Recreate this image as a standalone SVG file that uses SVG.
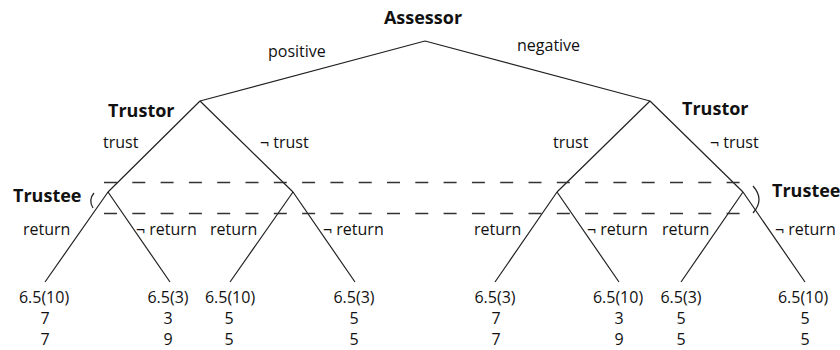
<svg xmlns="http://www.w3.org/2000/svg" width="840" height="350" viewBox="0 0 840 350">
<style>
text{font-family:"Open Sans","Noto Sans","Liberation Sans",sans-serif;fill:#111}
.b{font-size:18px;font-weight:bold}
.n{font-size:16px}
.m{text-anchor:middle}
.e{fill:none;stroke:#222;stroke-width:1.2}
.d{fill:none;stroke:#333;stroke-width:1.3;stroke-dasharray:13 15.3}
</style>
<rect width="840" height="350" fill="#fff"/>
<g id="connectors">
<path class="e" d="M425,41L200,101M425,41L650,101"/>
<path class="e" d="M200,101L108,192M200,101L293,192M650,101L557,192M650,101L743,192"/>
<path class="e" d="M108,192L45,282M108,192L170,282M293,192L230,282M293,192L355,282"/>
<path class="e" d="M557,192L495,282M557,192L619,282M743,192L681,282M743,192L805,282"/>
<g class="n">
<text x="268" y="57">positive</text>
<text x="517" y="51">negative</text>
<text x="103" y="148">trust</text>
<text x="260" y="148">¬ trust</text>
<text x="553" y="148">trust</text>
<text x="710" y="148">¬ trust</text>
<text x="23" y="235">return</text>
<text x="136" y="235">¬ return</text>
<text x="210" y="235">return</text>
<text x="323" y="235">¬ return</text>
<text x="474" y="235">return</text>
<text x="587" y="235">¬ return</text>
<text x="662" y="235">return</text>
<text x="775" y="235">¬ return</text>
</g>
</g>
<g id="assessor"><text class="b m" x="423" y="24">Assessor</text></g>
<g id="trustor-left"><text class="b" x="108" y="117">Trustor</text></g>
<g id="trustor-right"><text class="b" x="682" y="115">Trustor</text></g>
<g id="trustee-infoset">
<path class="d" d="M104,182.5H740M104,213.5H740"/>
<path class="e" d="M94,193Q88,200 93,208"/>
<path class="e" d="M753,186Q765,199.5 753,213"/>
<text class="b" x="13" y="202">Trustee</text>
<text class="b" x="772" y="197">Trustee</text>
</g>
<g id="leaves" class="n m">
<g id="leaf1"><text x="44" y="303">6.5(10)</text><text x="45" y="324">7</text><text x="45" y="345">7</text></g>
<g id="leaf2"><text x="168" y="303">6.5(3)</text><text x="168" y="324">3</text><text x="168" y="345">9</text></g>
<g id="leaf3"><text x="230" y="303">6.5(10)</text><text x="229" y="324">5</text><text x="229" y="345">5</text></g>
<g id="leaf4"><text x="354" y="303">6.5(3)</text><text x="354" y="324">5</text><text x="354" y="345">5</text></g>
<g id="leaf5"><text x="495" y="303">6.5(3)</text><text x="496" y="324">7</text><text x="496" y="345">7</text></g>
<g id="leaf6"><text x="618" y="303">6.5(10)</text><text x="619" y="324">3</text><text x="619" y="345">9</text></g>
<g id="leaf7"><text x="681" y="303">6.5(3)</text><text x="681" y="324">5</text><text x="681" y="345">5</text></g>
<g id="leaf8"><text x="803" y="303">6.5(10)</text><text x="805" y="324">5</text><text x="805" y="345">5</text></g>
</g>
</svg>
